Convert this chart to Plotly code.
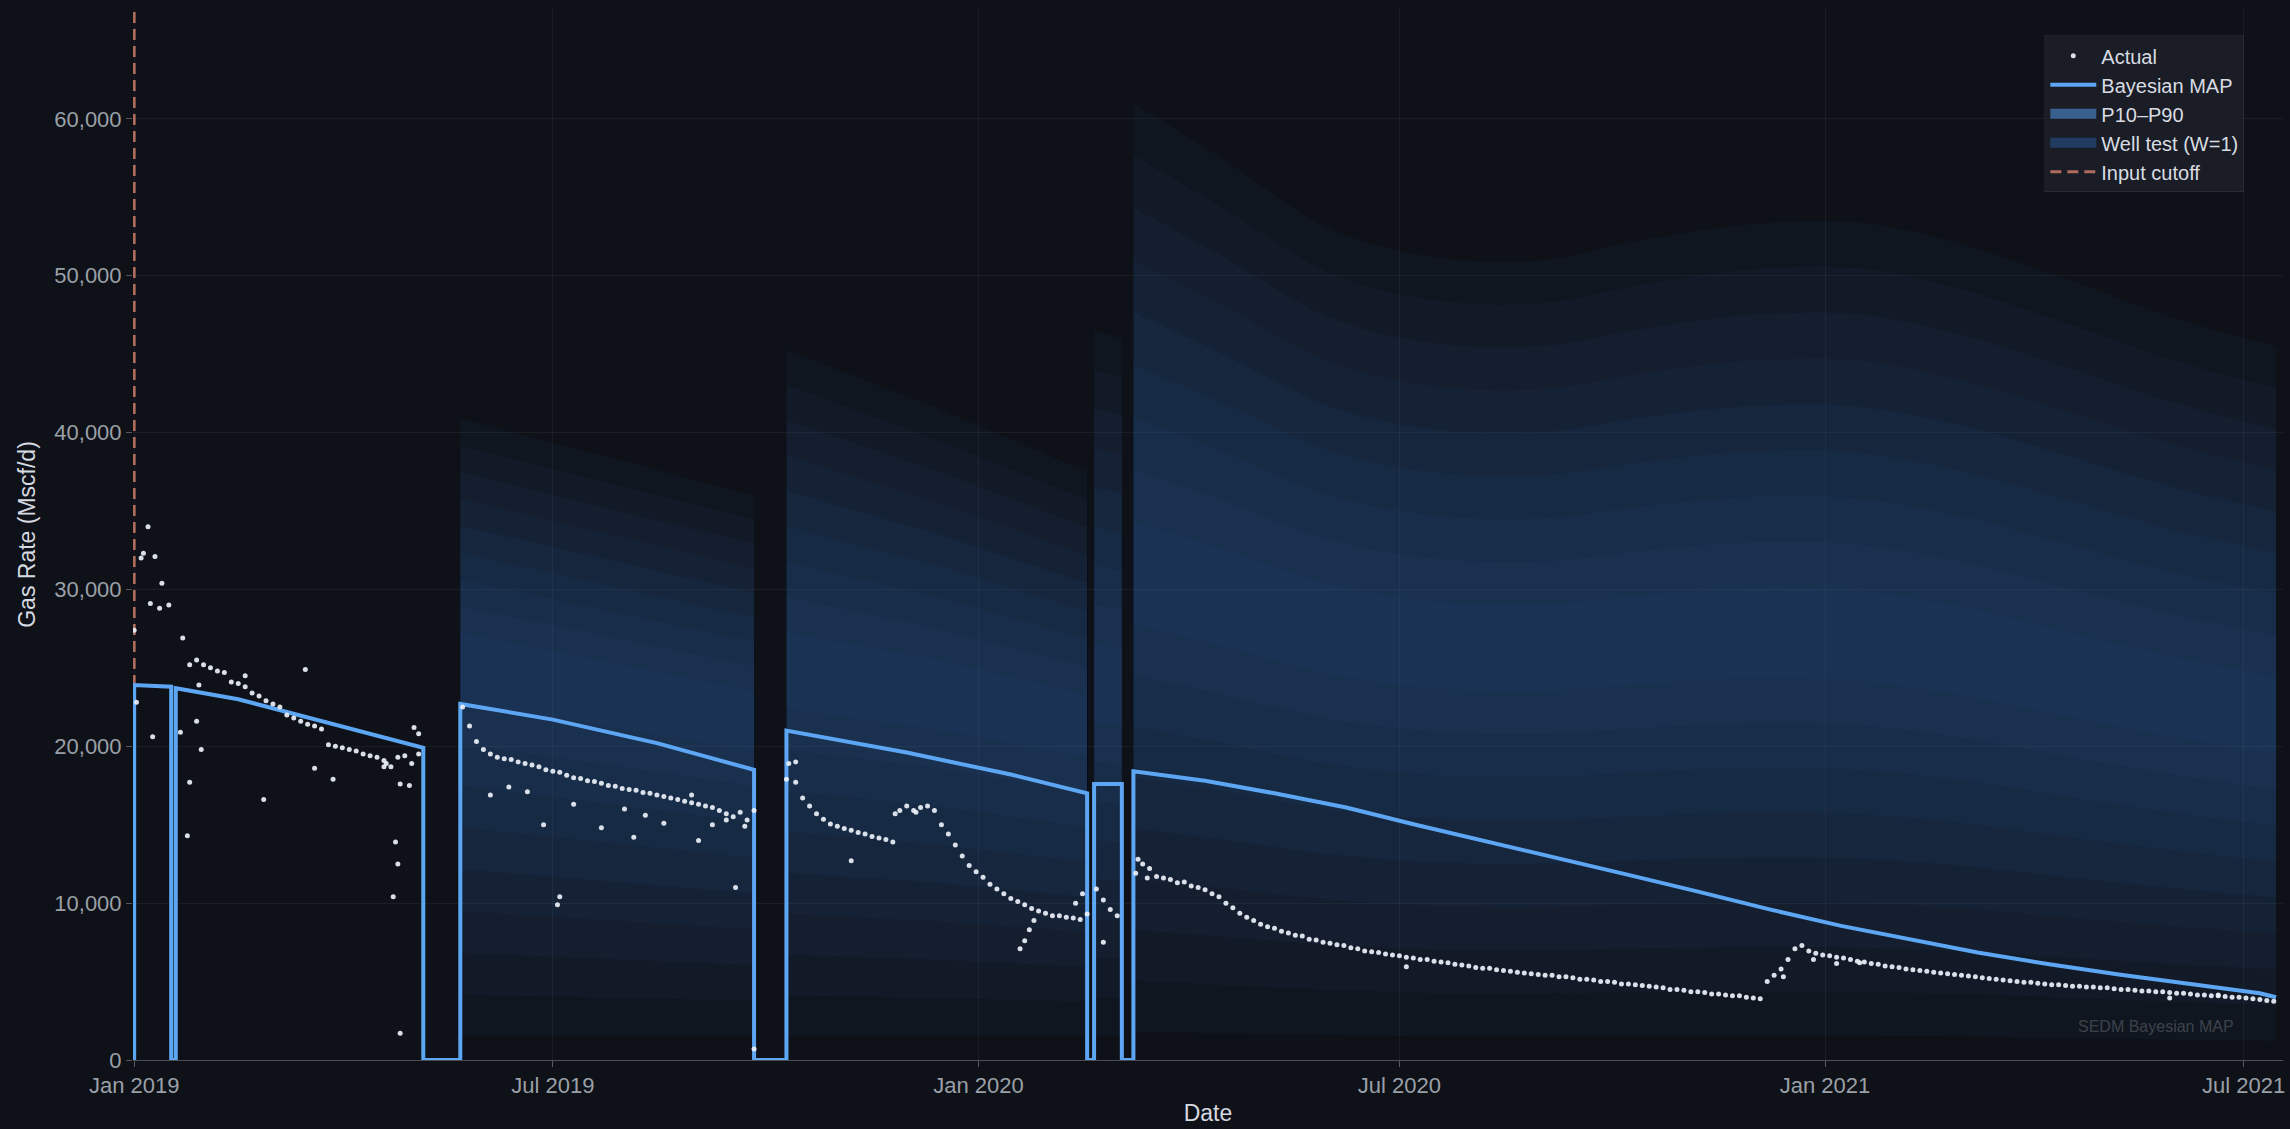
import pandas as pd
import plotly.graph_objects as go

# ---------------- data ----------------
# actual gas rate, one list per producing period, sampled every 3 days
seg1_start = '2019-01-01'
seg1_rate = [27400, 32000, 34000, 32100, 30400, 29000, None, 26900, 25200, 25500,
             25200, 25000, 24800, 24700, 24100, 24000, 23800, 23400, 23200, 22900,
             22700, 22500, 22000, 21800, 21600, 21400, 21300, 21100, 20100, 20000,
             19900, 19800, 19700, 19500, 19400, 19300, 19100, 18700, 19300, 19400,
             18900, 20800]
seg2_start = '2019-05-23'
seg2_rate = [22500, 21300, 20300, 19800, 19500, 19300, 19200, 19150, 19000, 18900,
             18800, 18700, 18500, 18400, 18350, 18150, 18000, 17950, 17800, 17750,
             17650, 17500, 17450, 17300, 17250, 17200, 17050, 17000, 16900, 16800,
             16700, 16600, 16500, 16400, 16300, 16200, 16100, 15900, 15700, 15500,
             15800, 15300, 15900]
seg3_start = '2019-10-11'
seg3_rate = [18900, 17700, 16700, 16200, 15700, 15350, 15050, 14900, 14750, 14650,
             14500, 14400, 14250, 14150, 14050, 13900, 15900, 16200, 15900, 16100,
             16200, 15900, 15000, 14400, 13700, 13000, 12400, 12000, 11650, 11200,
             10900, 10600, 10300, 10100, 9900, 9650, 9500, 9350, 9200, 9200,
             9100, 9050, 8950, 9300]
seg4_start = '2020-02-21'
seg4_rate = [10900, 10200, 9600, 9200]
seg5_start = '2020-03-09'
seg5_rate = [11900, 12500, 12200, 11700, 11600, 11500, 11300, 11350, 11100, 11000,
             10850, 10600, 10400, 10000, 9700, 9350, 9100, 8900, 8650, 8500,
             8400, 8200, 8100, 7950, 7900, 7700, 7650, 7500, 7450, 7350,
             7300, 7150, 7100, 6950, 6900, 6850, 6750, 6700, 6650, 6550,
             6500, 6400, 6400, 6300, 6250, 6200, 6100, 6050, 6000, 5900,
             5850, 5850, 5750, 5700, 5650, 5600, 5550, 5500, 5450, 5400,
             5400, 5300, 5300, 5250, 5150, 5150, 5100, 5000, 5000, 4950,
             4850, 4850, 4800, 4750, 4700, 4650, 4600, 4500, 4500, 4450,
             4350, 4350, 4300, 4200, 4200, 4150, 4100, 4100, 4000, 3950,
             3900, 5000, 5400, 5800, 6400, 7100, 7300, 6950, 6800, 6700,
             6650, 6550, 6500, 6400, 6300, 6250, 6150, 6100, 6000, 5950,
             5900, 5800, 5750, 5700, 5650, 5600, 5550, 5500, 5450, 5400,
             5350, 5300, 5250, 5200, 5150, 5100, 5050, 5000, 4950, 4950,
             4900, 4850, 4800, 4800, 4750, 4700, 4700, 4650, 4650, 4600,
             4600, 4550, 4500, 4500, 4450, 4400, 4400, 4350, 4350, 4300,
             4250, 4250, 4200, 4150, 4150, 4100, 4100, 4050, 4000, 4000,
             3950, 3900, 3850, 3800, 3750]

# scattered daily readings off the main trend
outlier_dates = ['2019-01-02', '2019-01-05', '2019-01-08', '2019-01-09', '2019-01-12',
                 '2019-01-21', '2019-01-24', '2019-01-25', '2019-01-28', '2019-01-29',
                 '2019-01-30', '2019-02-18', '2019-02-26', '2019-03-16', '2019-03-20',
                 '2019-03-28', '2019-04-19', '2019-04-20', '2019-04-23', '2019-04-24',
                 '2019-04-25', '2019-04-26', '2019-04-26', '2019-04-30', '2019-05-02',
                 '2019-05-04',
                 '2019-06-04', '2019-06-12', '2019-06-20', '2019-06-27', '2019-07-03',
                 '2019-07-04', '2019-07-10', '2019-07-22', '2019-08-01', '2019-08-05',
                 '2019-08-10', '2019-08-18', '2019-08-30', '2019-09-02', '2019-09-08',
                 '2019-09-14', '2019-09-18', '2019-09-22', '2019-09-26',
                 '2019-10-10', '2019-10-14', '2019-11-07', '2019-11-26', '2019-12-05',
                 '2020-01-19', '2020-01-21', '2020-01-23', '2020-01-25', '2020-02-12',
                 '2020-02-15', '2020-02-24',
                 '2020-03-10', '2020-03-14', '2020-07-04', '2020-12-14', '2020-12-27',
                 '2021-01-06', '2021-01-16', '2021-05-30', '2021-06-20']
outlier_rate = [22800, 32300, 29100, 20600, 28800,
                20900, 14300, 17700, 21600, 23900,
                19800, 24500, 16600, 24900, 18600,
                17900, 18700, 18900, 10400, 13900,
                12500, 17600, 1700, 17500, 21200,
                19500,
                16900, 17400, 17100, 15000, 9900,
                10400, 16300, 14800, 16000, 14200,
                15600, 15100, 16900, 14000, 15000,
                15300, 11000, 14900, 700,
                17900, 19000, 12700, 15700, 15800,
                7100, 7600, 8300, 8900, 10000,
                10600, 7500,
                12800, 11600, 5950, 5300, 6400,
                6150, 6200, 3950, 4150]

# Bayesian MAP forecast (with shut-ins)
map_dates = ['2019-01-01', '2019-01-01', '2019-01-17', '2019-01-17', '2019-01-19', '2019-01-19',
             '2019-02-15', '2019-03-15', '2019-04-15', '2019-05-06', '2019-05-06', '2019-05-22',
             '2019-05-22', '2019-07-01', '2019-08-15', '2019-09-26', '2019-09-26', '2019-10-10',
             '2019-10-10', '2019-12-01', '2020-01-15', '2020-02-17', '2020-02-17', '2020-02-20',
             '2020-02-20', '2020-03-03', '2020-03-03', '2020-03-08', '2020-03-08', '2020-04-08',
             '2020-05-08', '2020-06-08', '2020-07-08', '2020-08-08', '2020-09-08', '2020-10-08',
             '2020-11-08', '2020-12-08', '2021-01-08', '2021-02-08', '2021-03-08', '2021-04-08',
             '2021-05-08', '2021-06-08', '2021-07-08', '2021-07-15']
map_rate = [0, 23900, 23800, 0, 0, 23700,
            23000, 21900, 20700, 19900, 0, 0,
            22700, 21700, 20200, 18500, 0, 0,
            21000, 19600, 18200, 17000, 0, 0,
            17600, 17600, 0, 0, 18400, 17800,
            17000, 16100, 15000, 13900, 12800, 11800,
            10700, 9600, 8550, 7650, 6850, 6100,
            5450, 4850, 4250, 4000]

# P10-P90 envelope per forecast period: outer low, centre, outer high
b2_dates = ['2019-05-22', '2019-07-15', '2019-09-26']
b2_lo = [1500, 1500, 1500]
b2_mid = [25500, 24000, 22000]
b2_hi = [40900, 38800, 36000]
b3_dates = ['2019-10-10', '2019-12-15', '2020-02-17']
b3_lo = [1500, 1500, 1500]
b3_mid = [25000, 23500, 21500]
b3_hi = [45300, 41500, 37500]
b4_dates = ['2020-02-20', '2020-03-03']
b4_lo = [1500, 1500]
b4_mid = [24000, 23800]
b4_hi = [46500, 46000]
b5_dates = ['2020-03-08', '2020-04-15', '2020-06-01', '2020-07-15', '2020-09-01', '2020-10-15',
            '2020-12-01', '2021-01-15', '2021-03-01', '2021-04-15', '2021-06-01', '2021-07-15']
b5_lo = [1800, 1700, 1600, 1500, 1500, 1500, 1500, 1500, 1500, 1400, 1300, 1200]
b5_mid = [31000, 29500, 27500, 26500, 26300, 26800, 27200, 27000, 26000, 24500, 23000, 21800]
b5_hi = [61000, 57500, 53000, 51200, 51000, 52300, 53300, 53400, 52000, 49800, 47300, 45500]

cutoff_date = '2019-01-01'

# ---------------- styling ----------------
BG = '#0e1117'
MAP_COLOR = '#5ca6f4'
SHADE = 'rgba(66,126,198,0.05)'
N_SHADES = 9
FONT = 'Liberation Sans, Arial, Helvetica, sans-serif'
Y_MAX = 67000


def sampled(start, vals):
    return list(pd.date_range(start, periods=len(vals), freq='3D'))


fig = go.Figure()

# layered P10-P90 fan (nested bands give the soft gradient)
bands = [(b2_dates, b2_lo, b2_mid, b2_hi, 'linear'),
         (b3_dates, b3_lo, b3_mid, b3_hi, 'linear'),
         (b4_dates, b4_lo, b4_mid, b4_hi, 'linear'),
         (b5_dates, b5_lo, b5_mid, b5_hi, 'spline')]
for bd, lo, mid, hi, shape in bands:
    for k in range(N_SHADES):
        f = 1 - k / N_SHADES
        lower = [m - (m - l) * f for l, m in zip(lo, mid)]
        upper = [m + (h - m) * f for h, m in zip(hi, mid)]
        fig.add_trace(go.Scatter(x=bd, y=lower, mode='lines', line=dict(width=0, shape=shape),
                                 hoverinfo='skip', showlegend=False))
        fig.add_trace(go.Scatter(x=bd, y=upper, mode='lines', line=dict(width=0, shape=shape),
                                 fill='tonexty', fillcolor=SHADE, hoverinfo='skip', showlegend=False))

# legend swatches for the bands (thick strokes read as filled boxes)
fig.add_trace(go.Scatter(x=[None], y=[None], mode='lines',
                         line=dict(width=18, color='rgba(64,108,162,0.85)'),
                         name='P10–P90', legendrank=3))
fig.add_trace(go.Scatter(x=[None], y=[None], mode='lines',
                         line=dict(width=18, color='rgba(36,64,104,0.9)'),
                         name='Well test (W=1)', legendrank=4))

fig.add_trace(go.Scatter(x=[cutoff_date, cutoff_date], y=[0, Y_MAX], mode='lines',
                         line=dict(color='rgba(214,128,108,0.8)', width=3, dash='11px,6px'),
                         name='Input cutoff', legendrank=5))

fig.add_trace(go.Scatter(x=map_dates, y=map_rate, mode='lines',
                         line=dict(color=MAP_COLOR, width=4),
                         name='Bayesian MAP', legendrank=2))

act_x, act_y = [], []
for start, vals in [(seg1_start, seg1_rate), (seg2_start, seg2_rate), (seg3_start, seg3_rate),
                    (seg4_start, seg4_rate), (seg5_start, seg5_rate)]:
    act_x += sampled(start, vals)
    act_y += vals
act_x += list(pd.to_datetime(outlier_dates))
act_y += outlier_rate

fig.add_trace(go.Scatter(x=act_x, y=act_y, mode='markers',
                         marker=dict(size=5, color='rgba(236,240,248,0.92)'),
                         name='Actual', legendrank=1))

axis_common = dict(ticks='outside', ticklen=6, tickcolor='rgba(255,255,255,0.3)',
                   gridcolor='rgba(255,255,255,0.05)', zeroline=False, automargin=False,
                   tickfont=dict(size=22, color='#9aa0a8'))

fig.update_layout(
    width=2290, height=1129,
    margin=dict(l=133, r=7, t=9, b=69),
    paper_bgcolor=BG, plot_bgcolor=BG,
    font=dict(family=FONT, color='#d0d4db'),
    xaxis=dict(range=['2018-12-31 12:00', '2021-07-18'], tick0='2019-01-01', dtick='M6',
               tickformat='%b %Y', showline=True, linecolor='rgba(255,255,255,0.25)',
               title=dict(text='Date', font=dict(size=23, color='#d5d9e0'), standoff=7),
               **axis_common),
    yaxis=dict(range=[0, Y_MAX], dtick=10000, tickformat=',',
               title=dict(text='Gas Rate (Mscf/d)', font=dict(size=23, color='#d5d9e0'), standoff=12),
               **axis_common),
    legend=dict(x=0.982, xanchor='right', y=0.975, yanchor='top', traceorder='normal',
                itemwidth=46,
                bgcolor='rgba(28,32,40,0.85)', bordercolor='rgba(255,255,255,0.06)', borderwidth=1,
                font=dict(size=20, color='#d8dce2')),
    annotations=[dict(text='SEDM Bayesian MAP', xref='paper', yref='paper', x=0.978, y=0.022,
                      xanchor='right', yanchor='bottom', showarrow=False,
                      font=dict(size=16, color='rgba(255,255,255,0.2)'))],
    showlegend=True,
)

# drop the page's default body margin so the figure sits flush in the window
fig.write_html("out.html", config={'displayModeBar': False},
               post_script="document.body.style.margin='0';document.body.style.overflow='hidden';"
                           "document.body.style.background='#0e1117';")
